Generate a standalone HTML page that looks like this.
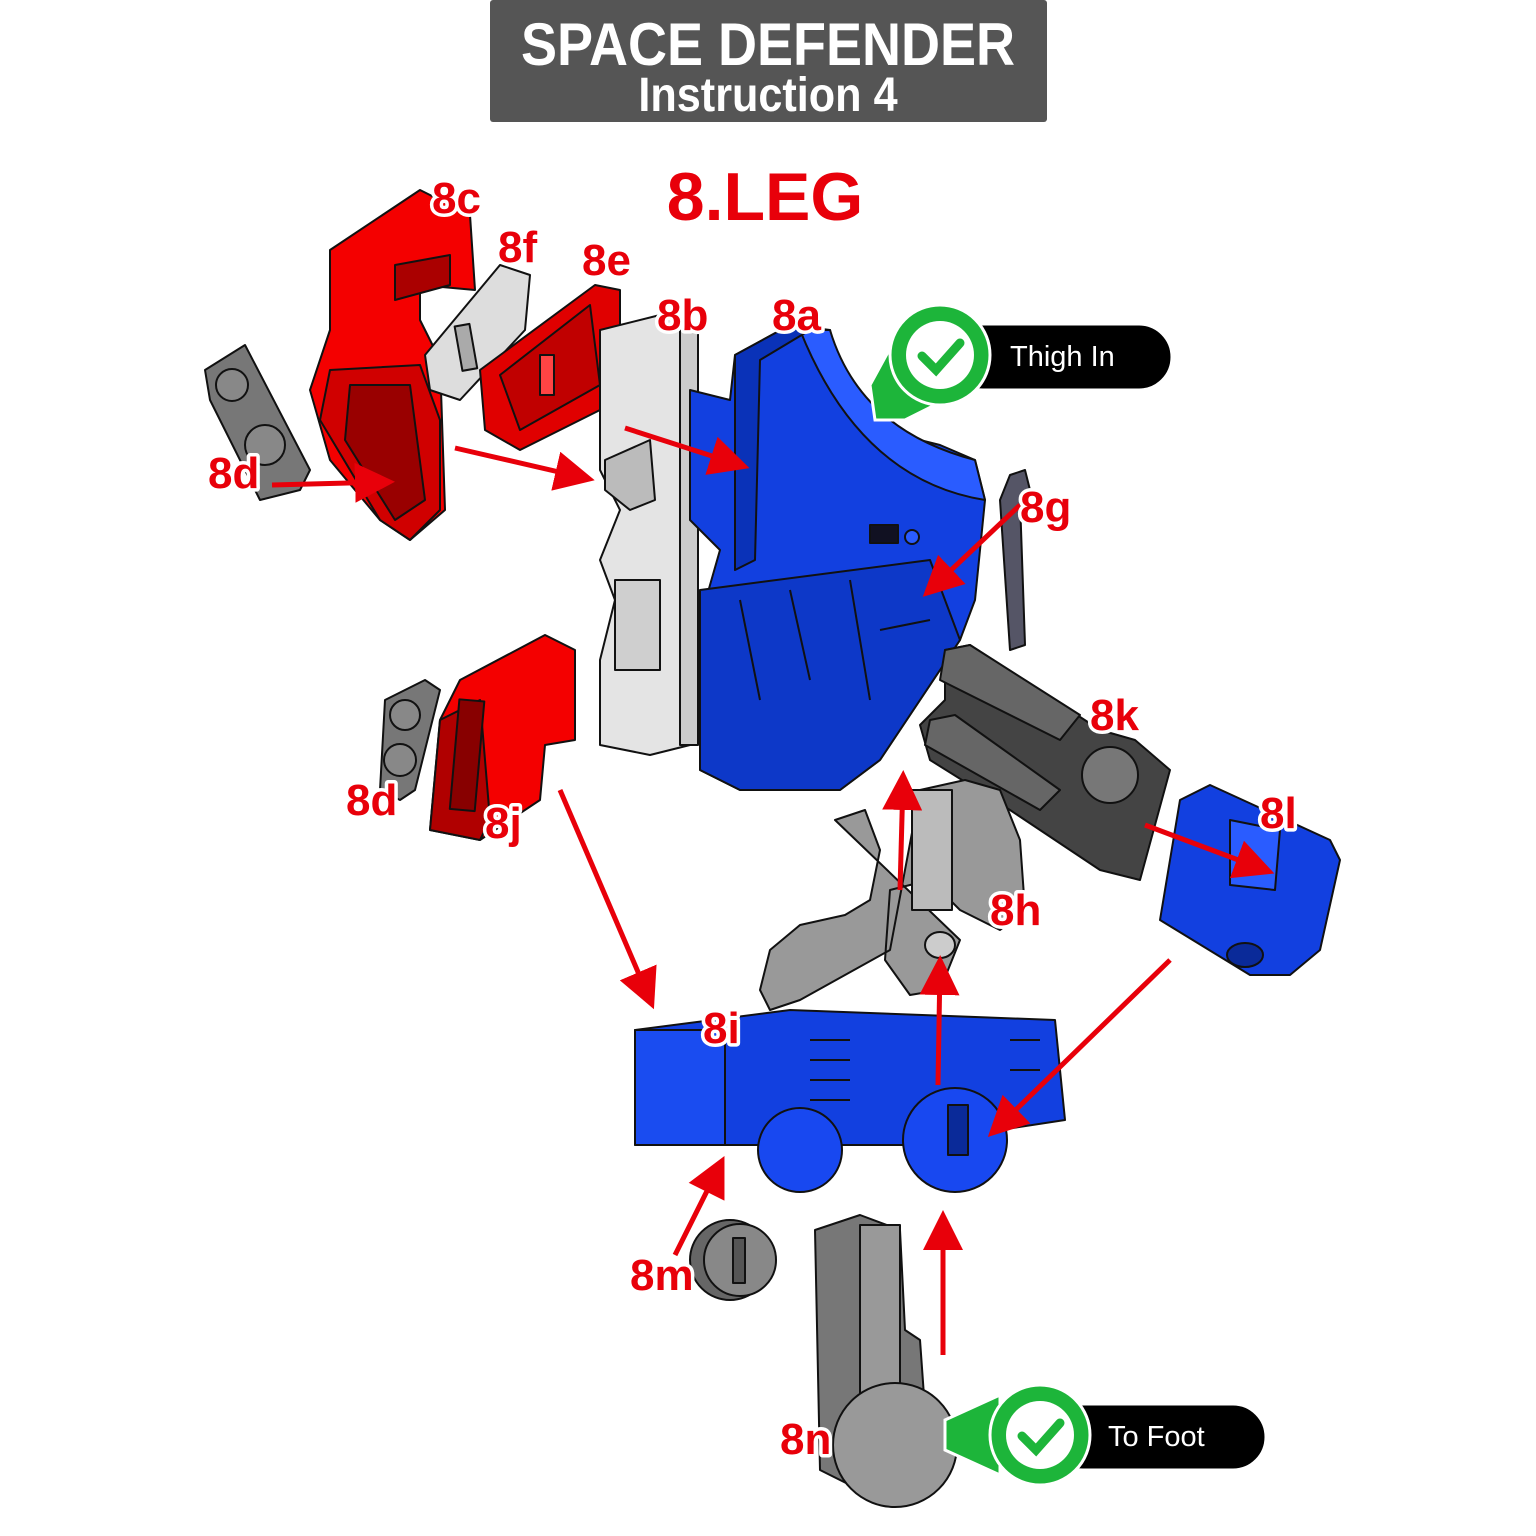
<!DOCTYPE html>
<html><head><meta charset="utf-8"><style>
html,body{margin:0;padding:0;background:#fff}
svg{display:block}
.lb{font-family:"Liberation Sans",sans-serif;font-weight:bold;font-size:44px;fill:#e8000a;stroke:#fff;stroke-width:7px;paint-order:stroke;stroke-linejoin:round}
</style></head><body>
<svg width="1536" height="1536" viewBox="0 0 1536 1536" xmlns="http://www.w3.org/2000/svg">
<defs>
<marker id="ah" markerWidth="8" markerHeight="8" refX="6" refY="4" orient="auto" markerUnits="strokeWidth"><path d="M0,0 L8,4 L0,8 z" fill="#e8000a"/></marker>
</defs>
<!-- header -->
<rect x="490" y="0" width="557" height="122" rx="3" fill="#555"/>
<text x="768" y="65" text-anchor="middle" font-family="Liberation Sans" font-weight="bold" font-size="60" fill="#fff" transform="translate(768,0) scale(0.9,1) translate(-768,0)">SPACE DEFENDER</text>
<text x="768" y="111" text-anchor="middle" font-family="Liberation Sans" font-weight="bold" font-size="48" fill="#fff" transform="translate(768,0) scale(0.9,1) translate(-768,0)">Instruction 4</text>
<text x="765" y="220" text-anchor="middle" class="lb" style="font-size:68px;stroke-width:9px">8.LEG</text>

<g stroke="#111" stroke-width="2" stroke-linejoin="round">
<!-- 8d top -->
<polygon points="205,370 245,345 310,470 300,490 260,500 210,400" fill="#777"/>
<circle cx="232" cy="385" r="16" fill="#888"/><circle cx="265" cy="445" r="20" fill="#888"/>
<!-- 8c -->
<polygon points="330,250 420,190 470,215 475,290 420,285 420,320 440,360 445,510 410,540 380,520 330,460 310,390 330,330" fill="#f40000"/>
<polygon points="330,370 420,365 440,420 440,510 410,540 380,520 320,420" fill="#d00000"/>
<polygon points="350,385 410,385 425,500 395,520 345,440" fill="#900" />
<polygon points="395,265 450,255 450,285 395,300" fill="#a00"/>
<!-- 8f -->
<polygon points="425,355 500,265 530,275 525,330 460,400 430,390" fill="#ddd"/>
<rect x="458" y="325" width="15" height="45" fill="#aaa" transform="rotate(-10 465 345)"/>
<!-- 8e -->
<polygon points="480,370 595,285 620,290 620,400 520,450 485,430" fill="#e00000"/>
<polygon points="500,375 590,305 600,385 520,430" fill="#c00000"/>
<rect x="540" y="355" width="14" height="40" fill="#f44"/>
<!-- 8b -->
<polygon points="600,330 660,315 690,325 690,745 650,755 600,745 600,660 615,600 600,560 620,510 600,470" fill="#e4e4e4"/>
<rect x="680" y="330" width="18" height="415" fill="#ccc"/>
<polygon points="605,460 650,440 655,500 630,510 605,490" fill="#bbb"/>
<rect x="615" y="580" width="45" height="90" fill="#cfcfcf"/>
<!-- 8a -->
<polygon points="735,355 790,325 830,330 840,380 880,430 940,445 975,460 985,500 975,600 960,640 920,700 880,760 840,790 740,790 700,770 700,620 720,550 690,520 690,390 730,400" fill="#1240e0"/>
<path d="M830,330 Q860,430 975,460 L985,500 Q860,480 800,330 Z" fill="#2a5cff"/>
<polygon points="735,355 790,325 810,330 760,360 755,560 735,570" fill="#0a32b8"/>
<polygon points="700,590 930,560 960,640 880,760 840,790 740,790 700,770" fill="#0d38c8"/>
<path d="M740,600 L760,700 M790,590 L810,680 M850,580 L870,700 M880,630 L930,620" stroke="#111" fill="none"/>
<rect x="870" y="525" width="28" height="18" fill="#112"/><circle cx="912" cy="537" r="7" fill="#2a5cff"/>
<!-- 8g -->
<polygon points="1010,475 1025,470 1030,490 1020,500 1025,645 1010,650 1000,500" fill="#556"/>
<!-- 8k -->
<polygon points="945,650 970,645 1100,730 1135,740 1170,770 1140,880 1100,870 1010,810 930,760 920,725 945,700" fill="#444"/>
<polygon points="945,650 970,645 1080,715 1060,740 940,680" fill="#666"/>
<polygon points="930,720 955,715 1060,790 1040,810 925,745" fill="#666"/>
<circle cx="1110" cy="775" r="28" fill="#777"/>
<!-- 8l -->
<polygon points="1180,800 1210,785 1330,840 1340,860 1320,950 1290,975 1250,975 1160,920 1170,860" fill="#1240e0"/>
<polygon points="1230,820 1280,830 1275,890 1230,885" fill="#2a5cff"/>
<ellipse cx="1245" cy="955" rx="18" ry="12" fill="#0a2a99"/>
<!-- 8h -->
<polygon points="835,820 865,810 880,850 870,900 845,915 800,925 770,950 760,990 770,1010 800,1000 890,950 920,790 965,780 1000,790 1020,840 1025,910 1000,930 960,910 930,880 890,890 885,960 910,995 940,990 960,940" fill="#999"/>
<rect x="912" y="790" width="40" height="120" fill="#bbb"/>
<ellipse cx="940" cy="945" rx="15" ry="13" fill="#ccc"/>
<!-- 8d lower -->
<polygon points="385,700 425,680 440,690 415,790 400,800 380,790" fill="#777"/>
<circle cx="405" cy="715" r="15" fill="#888"/><circle cx="400" cy="760" r="16" fill="#888"/>
<!-- 8j -->
<polygon points="460,680 545,635 575,650 575,740 545,745 540,800 480,840 430,830 440,720" fill="#f40000"/>
<polygon points="440,720 480,700 490,820 480,840 430,830" fill="#b00000"/>
<rect x="455" y="700" width="25" height="110" fill="#800" transform="rotate(5 465 750)"/>
<!-- 8i -->
<polygon points="635,1030 790,1010 1055,1020 1065,1120 1000,1130 960,1145 760,1145 635,1145" fill="#1240e0"/>
<rect x="635" y="1030" width="90" height="115" fill="#1a4cf0"/>
<circle cx="800" cy="1150" r="42" fill="#1848f0"/>
<circle cx="955" cy="1140" r="52" fill="#1848f0"/>
<rect x="948" y="1105" width="20" height="50" fill="#0a2a99"/>
<path d="M810,1040 L850,1040 M810,1060 L850,1060 M810,1080 L850,1080 M810,1100 L850,1100 M1010,1040 L1040,1040 M1010,1070 L1040,1070" stroke="#111"/>
<!-- 8m -->
<circle cx="730" cy="1260" r="40" fill="#666"/>
<circle cx="740" cy="1260" r="36" fill="#888"/>
<rect x="733" y="1238" width="12" height="45" fill="#555"/>
<!-- 8n -->
<polygon points="815,1230 860,1215 900,1230 905,1330 920,1340 925,1410 860,1490 820,1470" fill="#777"/>
<rect x="860" y="1225" width="40" height="200" fill="#999"/>
<circle cx="895" cy="1445" r="62" fill="#999"/>
</g>

<!-- arrows -->
<g stroke="#e8000a" stroke-width="5" fill="none" marker-end="url(#ah)">
<line x1="272" y1="485" x2="385" y2="482"/>
<line x1="455" y1="448" x2="585" y2="478"/>
<line x1="625" y1="428" x2="740" y2="465"/>
<line x1="1020" y1="505" x2="930" y2="590"/>
<line x1="1145" y1="825" x2="1265" y2="870"/>
<line x1="900" y1="890" x2="903" y2="780"/>
<line x1="938" y1="1085" x2="940" y2="965"/>
<line x1="1170" y1="960" x2="995" y2="1130"/>
<line x1="560" y1="790" x2="650" y2="1000"/>
<line x1="675" y1="1255" x2="720" y2="1165"/>
<line x1="943" y1="1355" x2="943" y2="1220"/>
</g>

<!-- labels -->
<text class="lb" x="432" y="213">8c</text>
<text class="lb" x="498" y="262">8f</text>
<text class="lb" x="582" y="275">8e</text>
<text class="lb" x="657" y="330">8b</text>
<text class="lb" x="772" y="330">8a</text>
<text class="lb" x="208" y="488">8d</text>
<text class="lb" x="1020" y="522">8g</text>
<text class="lb" x="1090" y="730">8k</text>
<text class="lb" x="1260" y="828">8l</text>
<text class="lb" x="346" y="815">8d</text>
<text class="lb" x="485" y="838">8j</text>
<text class="lb" x="990" y="925">8h</text>
<text class="lb" x="703" y="1043">8i</text>
<text class="lb" x="630" y="1290">8m</text>
<text class="lb" x="780" y="1454">8n</text>

<!-- badges -->
<g>
<rect x="950" y="324" width="222" height="66" rx="33" fill="#000" stroke="#fff" stroke-width="3"/>
<text x="1010" y="366" font-family="Liberation Sans" font-size="29" fill="#fff">Thigh In</text>
<polygon points="900,330 965,390 905,420 875,420 870,385" fill="#1db53a" stroke="#fff" stroke-width="3"/>
<circle cx="940" cy="355" r="50" fill="#1db53a" stroke="#fff" stroke-width="3"/>
<circle cx="940" cy="355" r="34" fill="#fff"/>
<path d="M922,356 L936,370 L960,343" stroke="#1db53a" stroke-width="9" fill="none" stroke-linecap="round"/>
</g>
<g>
<rect x="1050" y="1404" width="216" height="66" rx="33" fill="#000" stroke="#fff" stroke-width="3"/>
<text x="1108" y="1446" font-family="Liberation Sans" font-size="29" fill="#fff">To Foot</text>
<polygon points="1000,1395 945,1420 945,1450 1000,1475" fill="#1db53a" stroke="#fff" stroke-width="3"/>
<circle cx="1040" cy="1435" r="50" fill="#1db53a" stroke="#fff" stroke-width="3"/>
<circle cx="1040" cy="1435" r="34" fill="#fff"/>
<path d="M1022,1436 L1036,1450 L1060,1423" stroke="#1db53a" stroke-width="9" fill="none" stroke-linecap="round"/>
</g>
</svg>
</body></html>
